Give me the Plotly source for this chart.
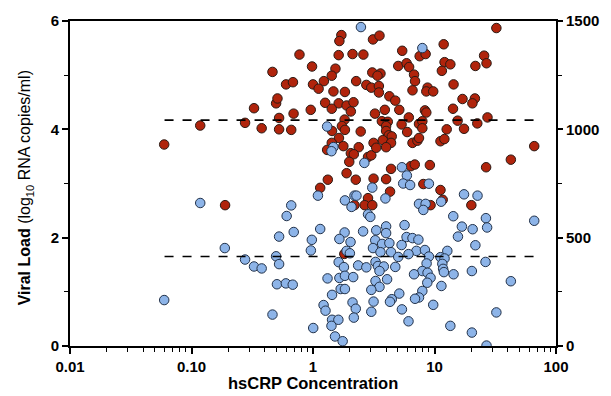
import plotly.graph_objects as go

# Viral load (left axis, log10 copies/ml) vs hsCRP
vl_crp = [0.0596, 0.118, 0.189, 0.276, 0.327, 0.378, 0.464, 0.497, 0.51, 0.526, 0.526, 0.60, 0.662, 0.684, 0.692,
          0.774, 0.958, 0.982, 1.00, 1.712, 1.649, 3.116, 1.627, 2.115, 2.598, 1.530, 1.427, 1.229, 1.112, 1.473,
          1.831, 2.266, 2.748, 3.018, 3.075, 1.259, 1.627, 1.427, 1.890, 2.154, 2.048, 1.820, 3.234, 1.730, 1.831,
          1.435, 2.470, 1.636, 1.427, 1.777, 1.307, 2.379, 2.048, 2.167, 2.837, 3.018, 3.151, 1.988, 1.890, 1.324,
          2.249, 3.151, 3.526, 5.423, 11.9, 7.55, 8.45, 5.03, 5.89, 6.18, 12.1, 13.5, 11.5, 21.7, 25.6,
          3.592, 3.396, 6.786, 6.915, 3.486, 3.486, 6.59, 8.77, 8.56, 9.76, 14.35, 4.251, 4.756, 17.0, 21.5,
          20.5, 3.90, 5.13, 8.34, 8.56, 14.2, 3.687, 4.126, 3.996, 5.36, 6.145, 7.454, 7.94, 7.94, 12.6,
          15.5, 17.5, 22.5, 3.996, 4.204, 5.955, 4.446, 3.757, 4.388, 3.996, 3.314, 6.59, 7.234, 7.454, 11.2,
          12.06, 4.388, 6.38, 6.88, 9.16, 3.996, 32.3, 26.8, 27.3, 66.2, 42.5, 26.6, 1.146, 2.837, 2.195,
          2.662, 3.075, 1.81, 4.307, 8.09, 11.2, 11.68, 9.28, 20.1]
vl_value = [3.72, 4.07, 2.60, 4.12, 4.39, 4.02, 5.06, 4.48, 4.57, 4.21, 4.00, 4.83, 3.99, 4.87, 4.29,
            5.38, 4.36, 5.16, 4.83, 5.74, 5.63, 5.66, 5.37, 5.39, 5.38, 5.12, 4.99, 4.89, 4.75, 4.70,
            4.69, 4.89, 4.82, 4.77, 5.05, 4.49, 4.48, 4.38, 4.44, 4.50, 4.33, 4.18, 4.29, 4.06, 3.99,
            3.97, 3.96, 3.84, 3.75, 3.69, 3.62, 3.67, 3.56, 3.54, 3.49, 3.52, 3.75, 3.40, 3.19, 3.07,
            3.07, 3.09, 5.73, 5.45, 5.57, 5.35, 5.39, 5.17, 5.22, 5.15, 5.24, 5.20, 5.08, 5.17, 5.36,
            5.03, 4.99, 5.01, 4.89, 4.80, 4.68, 4.72, 4.77, 4.70, 4.70, 4.83, 4.61, 4.53, 4.56, 4.57,
            4.48, 4.36, 4.36, 4.35, 4.31, 4.38, 4.15, 4.14, 4.06, 4.09, 4.22, 4.10, 4.15, 4.02, 4.00,
            4.16, 4.01, 4.11, 3.97, 3.89, 3.95, 3.87, 3.80, 3.75, 3.67, 3.66, 3.75, 3.79, 3.84, 3.78,
            3.82, 3.27, 3.32, 3.35, 3.34, 3.08, 5.87, 5.22, 4.22, 3.69, 3.44, 3.30, 2.92, 2.73, 2.60,
            2.60, 2.60, 1.70, 2.85, 2.99, 2.88, 2.70, 2.60, 2.60]

# CD4 count (right axis) vs hsCRP
cd4_crp = [2.48, 7.94, 1.307, 1.473, 1.419, 2.647, 5.393, 5.922, 0.0596, 0.118, 0.188, 0.276, 0.327, 0.378,
           0.497, 0.526, 0.526, 0.607, 0.662, 0.694, 0.505, 0.598, 0.681, 0.464, 1.004, 0.978, 0.960, 1.098,
           1.146, 1.831, 2.195, 2.279, 2.075, 3.075, 2.837, 2.962, 2.584, 1.820, 1.649, 2.037, 1.890, 2.011,
           1.627, 1.797, 2.353, 2.748, 1.317, 1.649, 1.831, 2.142, 1.689, 1.831, 1.435, 1.222, 1.268, 2.115,
           2.249, 2.167, 3.018, 1.435, 1.618, 1.419, 1.518, 1.754, 5.525, 6.30, 8.99, 3.944, 7.454, 8.45,
           8.09, 11.34, 17.5, 22.6, 14.27, 16.8, 20.6, 15.6, 26.5, 21.7, 5.67, 3.996, 3.996, 3.314, 3.253,
           3.116, 3.709, 4.251, 5.36, 5.89, 6.59, 7.37, 7.10, 8.34, 6.11, 3.592, 4.388, 5.03, 8.99, 12.75,
           11.2, 12.1, 8.61, 11.6, 3.27, 3.42, 3.826, 4.756, 3.526, 7.94, 8.77, 11.77, 11.95, 14.35, 6.786,
           9.28, 20.3, 4.073, 3.27, 8.72, 11.4, 3.526, 3.018, 7.94, 5.13, 7.454, 6.915, 4.45, 4.30, 3.151,
           9.76, 5.393, 6.11, 13.5, 20.3, 27.1, 66.2, 26.3, 42.5, 32.3, 26.8]
cd4_value = [1472, 1375, 1013, 918, 899, 845, 825, 787, 212, 660, 452, 399, 367, 358,
             414, 378, 505, 600, 649, 526, 285, 289, 283, 145, 83, 490, 441, 694,
             540, 672, 694, 694, 642, 731, 608, 596, 529, 524, 494, 480, 439, 428,
             387, 364, 372, 363, 312, 314, 324, 318, 263, 263, 236, 189, 163, 201,
             172, 131, 158, 121, 121, 93, 44, 22, 750, 743, 749, 681, 656, 656,
             628, 666, 700, 694, 599, 551, 539, 505, 590, 465, 558, 552, 521, 534, 488,
             452, 471, 475, 466, 503, 498, 491, 439, 443, 424, 433, 433, 411, 413, 439,
             410, 404, 381, 379, 388, 369, 367, 365, 346, 346, 338, 356, 341, 331, 331,
             315, 346, 308, 300, 292, 277, 273, 259, 254, 242, 224, 218, 216, 204, 205,
             190, 169, 114, 93, 62, 547, 578, 388, 299, 155, 2]

# Means (dashed lines)
vl_mean = 4.17
cd4_mean = 413
line_span = [0.06, 66]

x_tickvals = [0.01, 0.1, 1, 10, 100]
x_ticktext = ["0.01", "0.10", "1", "10", "100"]
x_minor = [m * 10 ** e for e in (-2, -1, 0, 1) for m in range(2, 10)]
y_tickvals = [0, 2, 4, 6]
y_minor = [1, 3, 5]
y2_tickvals = [0, 500, 1000, 1500]
y2_minor = [250, 750, 1250]

RED = "#B0240C"
BLUE = "#8DB4E8"
FONT = "Liberation Sans, Arial, sans-serif"

fig = go.Figure()
fig.add_trace(go.Scatter(x=vl_crp, y=vl_value, mode="markers", yaxis="y",
                         marker=dict(color=RED, size=9.5, line=dict(color="#2a1a14", width=1)),
                         showlegend=False))
fig.add_trace(go.Scatter(x=line_span, y=[vl_mean, vl_mean], mode="lines", yaxis="y",
                         line=dict(color="black", width=1.6, dash="dash"), showlegend=False))
fig.add_trace(go.Scatter(x=cd4_crp, y=cd4_value, mode="markers", yaxis="y2",
                         marker=dict(color=BLUE, size=9.5, line=dict(color="#22324a", width=1)),
                         showlegend=False))
fig.add_trace(go.Scatter(x=line_span, y=[cd4_mean, cd4_mean], mode="lines", yaxis="y2",
                         line=dict(color="black", width=1.6, dash="dash"), showlegend=False))

tickfont = dict(family=FONT, size=15, color="black", weight="bold")

fig.update_layout(
    width=611, height=396, autosize=False,
    margin=dict(l=70, r=49, t=18, b=50),
    paper_bgcolor="white", plot_bgcolor="white",
    font=dict(family=FONT, color="black"),
    xaxis=dict(type="log", range=[-2, 2], showgrid=False, zeroline=False,
               showline=True, linecolor="black", linewidth=2, mirror=True,
               ticks="outside", ticklen=6, tickwidth=1.5, tickcolor="black",
               tickvals=x_tickvals, ticktext=x_ticktext, tickfont=tickfont,
               minor=dict(ticks="outside", ticklen=3.5, tickwidth=1.2, tickcolor="black",
                          tickvals=x_minor, showgrid=False)),
    yaxis=dict(range=[0, 6], showgrid=False, zeroline=False,
               showline=True, linecolor="black", linewidth=2,
               ticks="outside", ticklen=6, tickwidth=1.5, tickcolor="black",
               tickvals=y_tickvals, tickfont=tickfont,
               minor=dict(ticks="outside", ticklen=4, tickwidth=1.2, tickcolor="black",
                          tickvals=y_minor, showgrid=False)),
    yaxis2=dict(range=[0, 1500], overlaying="y", side="right", showgrid=False, zeroline=False,
                showline=True, linecolor="black", linewidth=2,
                ticks="outside", ticklen=5, tickwidth=1.5, tickcolor="black",
                tickvals=y2_tickvals, tickfont=tickfont,
                minor=dict(ticks="outside", ticklen=4, tickwidth=1.2, tickcolor="black",
                           tickvals=y2_minor, showgrid=False)),
    annotations=[
        dict(text="<b>Viral Load</b> (log<sub>10</sub> RNA copies/ml)", textangle=-90,
             xref="paper", yref="paper", x=-0.092, y=0.486, xanchor="center", yanchor="middle",
             showarrow=False, font=dict(family=FONT, size=16, color="black")),
        dict(text="<b>hsCRP Concentration</b>",
             xref="paper", yref="paper", x=0.5, y=-0.115, xanchor="center", yanchor="middle",
             showarrow=False, font=dict(family=FONT, size=16.5, color="black")),
    ],
)

fig.write_html("out.html", config={"displayModeBar": False},
               post_script="document.body.style.margin='0';document.body.style.padding='0';")
